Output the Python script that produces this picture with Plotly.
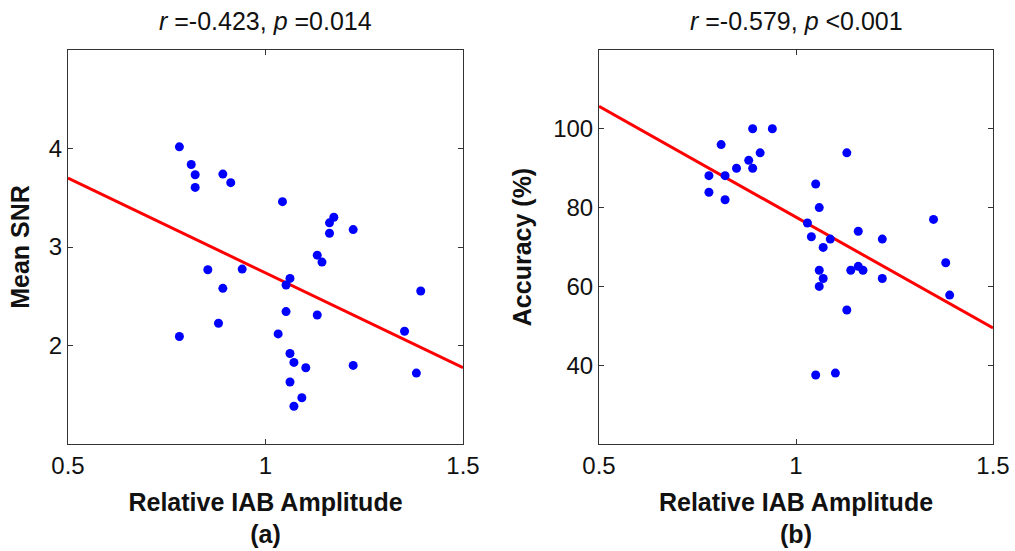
import plotly.graph_objects as go

# ---- data ----
snr_x = [0.782, 0.812, 0.822, 0.822, 0.892, 0.912, 1.043, 1.173, 1.162, 1.162, 1.222,
         1.131, 1.143, 0.854, 0.941, 1.062, 1.052, 0.892, 1.393, 1.052, 1.131, 0.881,
         1.032, 0.782, 1.352, 1.062, 1.072, 1.102, 1.222, 1.382, 1.062, 1.092, 1.072]
snr_y = [4.017, 3.838, 3.734, 3.605, 3.740, 3.653, 3.460, 3.302, 3.245, 3.140, 3.177,
         2.917, 2.847, 2.769, 2.776, 2.681, 2.614, 2.580, 2.553, 2.344, 2.310, 2.226,
         2.118, 2.091, 2.145, 1.919, 1.828, 1.774, 1.798, 1.720, 1.629, 1.470, 1.383]

acc_x = [0.890, 0.940, 0.810, 0.909, 1.129, 0.880, 0.849, 0.890, 0.779, 0.820, 0.779,
         0.820, 1.050, 1.059, 1.349, 1.029, 1.158, 1.039, 1.087, 1.219, 1.069, 1.380,
         1.059, 1.139, 1.158, 1.170, 1.069, 1.219, 1.059, 1.390, 1.129, 1.050, 1.100]
acc_y = [100.0, 100.0, 96.0, 93.9, 93.9, 92.0, 90.0, 90.0, 88.1, 88.1, 83.9,
         82.0, 86.0, 80.0, 77.0, 76.1, 74.0, 72.6, 72.0, 72.0, 69.9, 66.0,
         64.1, 64.1, 65.1, 64.1, 62.0, 62.0, 60.0, 57.8, 54.0, 37.5, 38.0]

fit_x = [0.5, 1.5]
snr_fit = [3.70, 1.775]
acc_fit = [105.7, 49.45]

titles = ["<i>r</i> =-0.423, <i>p</i> =0.014", "<i>r</i> =-0.579, <i>p</i> <0.001"]
x_ticks = [0.5, 1, 1.5]
x_ticktext = ["0.5", "1", "1.5"]
snr_ticks = [2, 3, 4]
acc_ticks = [40, 60, 80, 100]

FONT = "Liberation Sans, Arial, sans-serif"
BLUE = "#0000FF"
RED = "#FF0000"
FRAME = "#333333"
TXT = "#111111"

fig = go.Figure()
fig.add_trace(go.Scatter(x=fit_x, y=snr_fit, mode="lines", line=dict(color=RED, width=3),
                         xaxis="x", yaxis="y", showlegend=False))
fig.add_trace(go.Scatter(x=snr_x, y=snr_y, mode="markers",
                         marker=dict(color=BLUE, size=9), xaxis="x", yaxis="y", showlegend=False))
fig.add_trace(go.Scatter(x=fit_x, y=acc_fit, mode="lines", line=dict(color=RED, width=3),
                         xaxis="x2", yaxis="y2", showlegend=False))
fig.add_trace(go.Scatter(x=acc_x, y=acc_y, mode="markers",
                         marker=dict(color=BLUE, size=9), xaxis="x2", yaxis="y2", showlegend=False))

W, H = 1015, 551
xd1 = [68 / W, 463 / W]
xd2 = [599 / W, 993 / W]
yd = [1 - 444 / H, 1 - 50 / H]

axis_common = dict(showline=True, linecolor=FRAME, linewidth=1, mirror="allticks",
                   ticks="inside", ticklen=5, tickcolor=FRAME, showgrid=False, zeroline=False,
                   automargin=False,
                   tickfont=dict(family=FONT, size=24, color=TXT))

title_font = dict(family=FONT, size=25, color=TXT)

fig.update_layout(
    width=W, height=H,
    margin=dict(l=0, r=0, t=0, b=0),
    paper_bgcolor="white", plot_bgcolor="white",
    font=dict(family=FONT, color=TXT),
    xaxis=dict(domain=xd1, range=[0.5, 1.5], tickvals=x_ticks, ticktext=x_ticktext,
               anchor="y",
               title=dict(text="<b>Relative IAB Amplitude</b><br><b>(a)</b>", font=title_font, standoff=15),
               **axis_common),
    yaxis=dict(domain=yd, range=[1, 5], tickvals=snr_ticks, anchor="x",
               title=dict(text="<b>Mean SNR</b>", font=title_font, standoff=12),
               **axis_common),
    xaxis2=dict(domain=xd2, range=[0.5, 1.5], tickvals=x_ticks, ticktext=x_ticktext,
                anchor="y2",
                title=dict(text="<b>Relative IAB Amplitude</b><br><b>(b)</b>", font=title_font, standoff=15),
                **axis_common),
    yaxis2=dict(domain=yd, range=[20, 120], tickvals=acc_ticks, anchor="x2",
                title=dict(text="<b>Accuracy (%)</b>", font=title_font, standoff=14),
                **axis_common),
    annotations=[
        dict(text=titles[0], x=(xd1[0] + xd1[1]) / 2, y=1 - 21 / H, xref="paper", yref="paper",
             xanchor="center", yanchor="middle", showarrow=False,
             font=dict(family=FONT, size=25, color=TXT)),
        dict(text=titles[1], x=(xd2[0] + xd2[1]) / 2, y=1 - 21 / H, xref="paper", yref="paper",
             xanchor="center", yanchor="middle", showarrow=False,
             font=dict(family=FONT, size=25, color=TXT)),
    ],
)

fig.write_html("out.html", config={"displayModeBar": False},
               post_script="document.body.style.margin='0px';document.body.style.overflow='hidden';")
